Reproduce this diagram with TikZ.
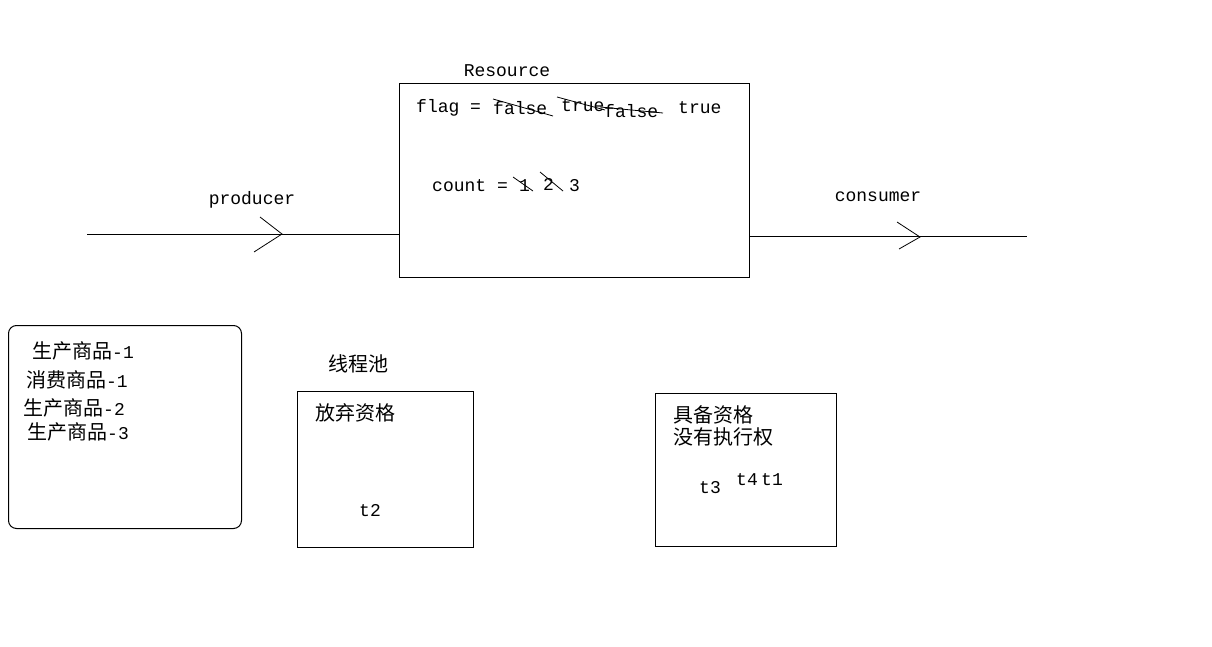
\documentclass[tikz,border=0pt]{standalone}
\usepackage{fontspec}
\setmainfont{Liberation Mono}
\newfontfamily\cjk{Noto Sans CJK SC}
\newcommand{\lm}[1]{{\rmfamily\fontsize{18}{22}\selectfont #1}}
\begin{document}
\begin{tikzpicture}[x=1pt,y=-1pt,
  lat/.style={inner sep=0, anchor=west, font=\fontsize{18}{22}\selectfont},
  zh/.style={inner sep=0, anchor=west, font=\cjk\fontsize{20}{24}\selectfont},
  box/.style={draw, line width=1pt, inner sep=0, anchor=north west},
  ln/.style={line width=1pt},
  thin/.style={line width=0.8pt}]
\useasboundingbox[fill=white] (0,0) rectangle (1212,647);

% Resource
\node[box, minimum width=350pt, minimum height=194pt] (res) at (399,83) {};
\node[lat, anchor=center] (reslbl) at (507,71) {Resource};
\node[lat] (flag) at (416,108) {flag =};
\node[lat] (f1) at (493,108) {false};
\node[lat] (t1v) at (561,106) {true};
\node[lat] (f2) at (604,111) {false};
\node[lat] (t2v) at (678,108) {true};
\draw[thin] (493,99) -- (553,116);
\draw[thin] (557,97) -- (605,110);
\draw[thin] (600,107) -- (663,113);
\node[lat] (count) at (432,186) {count =};
\node[lat] (c1) at (519,186) {1};
\node[lat] (c2) at (543,184) {2};
\node[lat] (c3) at (569,186) {3};
\draw[thin] (513,177) -- (533,191);
\draw[thin] (540,172) -- (563,191);

% producer
\coordinate (pstart) at (87,234);
\draw[ln] (pstart) -- (res.west |- pstart);
\coordinate (ptip) at (282,234);
\draw[thin] (260,217) -- (ptip) -- (254,252);
\node[lat, anchor=center] (prod) at (252,200) {producer};

% consumer
\coordinate (cend) at (1027,236);
\draw[ln] (res.east |- cend) -- (cend);
\coordinate (ctip) at (920,237);
\draw[thin] (897,222) -- (ctip) -- (899,249);
\node[lat, anchor=center] (cons) at (878,197) {consumer};

% left rounded box
\node[box, rounded corners=8pt, minimum width=233pt, minimum height=203pt] (log) at (8,325) {};
\node[zh] (l1) at (32,351) {生产商品\lm{-1}};
\node[zh] (l2) at (26,380) {消费商品\lm{-1}};
\node[zh] (l3) at (23,408) {生产商品\lm{-2}};
\node[zh] (l4) at (27,432) {生产商品\lm{-3}};

% thread pool
\node[zh] (pool) at (328,364) {线程池};
\node[box, minimum width=176pt, minimum height=156pt] (wait) at (297,391) {};
\node[zh] (giveup) at (315,413) {放弃资格};
\node[lat, anchor=center] (tt2) at (370,511) {t2};

% right box
\node[box, minimum width=181pt, minimum height=153pt] (ready) at (655,393) {};
\node[zh] (r1) at (673,415) {具备资格};
\node[zh] (r2) at (673,437) {没有执行权};
\node[lat, anchor=center] (tt3) at (710,488) {t3};
\node[lat, anchor=center] (tt4) at (747,480) {t4};
\node[lat, anchor=center] (tt1) at (772,480) {t1};
\end{tikzpicture}
\end{document}
